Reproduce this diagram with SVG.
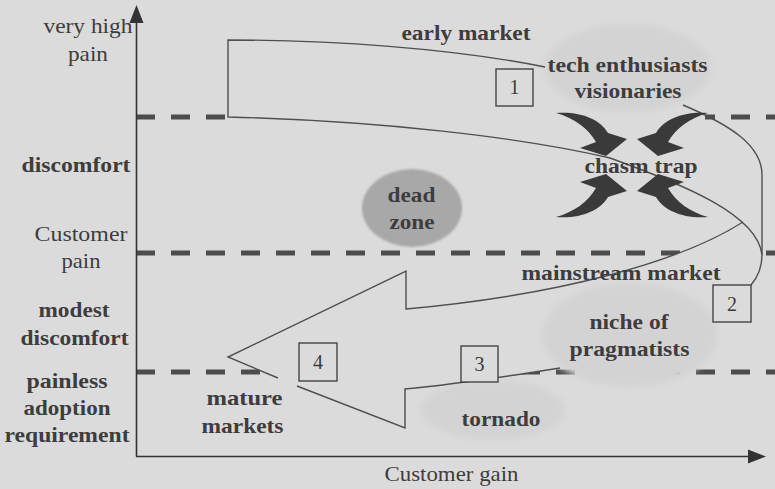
<svg xmlns="http://www.w3.org/2000/svg" width="775" height="489" viewBox="0 0 775 489">
  <style>
    .lb { font-family: "Liberation Serif", "Times New Roman", serif; font-weight: bold; font-size: 22px; fill: #3d3d3d; text-anchor: middle; }
    .lr { font-family: "Liberation Serif", "Times New Roman", serif; font-size: 22px; fill: #3d3d3d; text-anchor: middle; }
    .num { font-family: "Liberation Serif", "Times New Roman", serif; font-size: 20px; fill: #3a3a3a; text-anchor: middle; }
    .dash { stroke: #4c4c4c; stroke-width: 5; stroke-dasharray: 19 16; fill: none; }
    .edge { stroke: #4f4f4f; stroke-width: 1.4; fill: none; stroke-linejoin: miter; }
    .box { fill: #dcdbdb; stroke: #454545; stroke-width: 1.4; }
    .axis { stroke: #333; stroke-width: 1.6; fill: none; }
    .blob { fill: #d4d3d3; filter: url(#soft); }
  </style>
  <defs>
    <filter id="soft" x="-20%" y="-30%" width="140%" height="160%">
      <feGaussianBlur stdDeviation="3"/>
    </filter>
    <filter id="softer" x="-10%" y="-10%" width="120%" height="120%">
      <feGaussianBlur stdDeviation="1.2"/>
    </filter>
    <!-- one curved "trap" arrow, pointing in toward the chasm -->
    <path id="swoosh" d="M556,113 C580,111 600,119 608,133 L627,139 L606,156 L580,148 L596,142 C588,128 574,118 556,113 Z" fill="#3a3a3a"/>
  </defs>

  <rect width="775" height="489" fill="#dcdbdb"/>

  <!-- pain level thresholds -->
  <g id="thresholds">
    <path class="dash" d="M136,117 H228"/>
    <path class="dash" d="M705,117 H775" stroke-dashoffset="9"/>
    <path class="dash" d="M136,253 H775"/>
    <path class="dash" d="M136,372 H775"/>
  </g>

  <!-- body of the big return arrow masks the thresholds -->
  <path id="arrow-body" d="M406,309 C560,295 680,262 743,222 L752,236 L762,255 C762,268 757,278 751,285 L560,368 C510,376 460,384 405,389 V428 L228,357 L406,271 Z" fill="#dcdbdb"/>

  <!-- segment clouds -->
  <g id="tech-cloud"><ellipse class="blob" cx="628" cy="68" rx="84" ry="44"/></g>
  <g id="niche-cloud"><ellipse class="blob" cx="630" cy="335" rx="88" ry="52"/></g>
  <g id="tornado-cloud"><ellipse class="blob" cx="493" cy="410" rx="72" ry="30"/></g>
  <g id="dead-zone"><ellipse cx="412" cy="208" rx="50" ry="39" fill="#a9a8a8" filter="url(#softer)"/></g>

  <!-- life-cycle path -->
  <g id="connectors">
    <path class="edge" d="M545,67 C450,48 330,40 228,40 V117 C380,121 520,137 610,158 C685,185 758,215 762,255"/>
    <path class="edge" d="M683,105 C730,125 762,145 762,175 V255 C762,268 757,278 751,285"/>
    <path class="edge" d="M743,222 C680,262 560,295 406,309 V271 L228,357 L278,378 M297,386 L405,428 V389 C460,384 510,376 560,368"/>
  </g>

  <!-- chasm trap arrows -->
  <g id="chasm-arrows">
    <use href="#swoosh"/>
    <use href="#swoosh" transform="translate(1264,0) scale(-1,1)"/>
    <use href="#swoosh" transform="translate(0,330) scale(1,-1)"/>
    <use href="#swoosh" transform="translate(1264,330) scale(-1,-1)"/>
  </g>

  <!-- stage markers -->
  <g id="stage-1"><rect class="box" x="496" y="69" width="37" height="37"/><text class="num" x="514.5" y="94">1</text></g>
  <g id="stage-2"><rect class="box" x="713" y="285" width="38" height="37"/><text class="num" x="732" y="311">2</text></g>
  <g id="stage-3"><rect class="box" x="461" y="346" width="37" height="36"/><text class="num" x="479.5" y="371">3</text></g>
  <g id="stage-4"><rect class="box" x="299" y="343" width="38" height="38"/><text class="num" x="318" y="369">4</text></g>

  <!-- axes -->
  <g id="axes">
    <path class="axis" d="M136.5,456.5 V20 M136,456.5 H750"/>
    <polygon points="136.5,5 143.5,23 129.5,23" fill="#333"/>
    <polygon points="766,456.5 748,449.5 748,463.5" fill="#333"/>
  </g>

  <!-- vertical axis scale -->
  <g id="pain-scale">
    <text class="lr" x="88" y="33" textLength="89" lengthAdjust="spacingAndGlyphs">very high</text>
    <text class="lr" x="88" y="61" textLength="40" lengthAdjust="spacingAndGlyphs">pain</text>
    <text class="lb" x="76" y="172" textLength="109" lengthAdjust="spacingAndGlyphs">discomfort</text>
    <text class="lr" x="81" y="241" textLength="93" lengthAdjust="spacingAndGlyphs">Customer</text>
    <text class="lr" x="81" y="268" textLength="39" lengthAdjust="spacingAndGlyphs">pain</text>
    <text class="lb" x="74" y="317" textLength="71" lengthAdjust="spacingAndGlyphs">modest</text>
    <text class="lb" x="74.5" y="345" textLength="108" lengthAdjust="spacingAndGlyphs">discomfort</text>
    <text class="lb" x="67" y="388" textLength="81" lengthAdjust="spacingAndGlyphs">painless</text>
    <text class="lb" x="67" y="415" textLength="87" lengthAdjust="spacingAndGlyphs">adoption</text>
    <text class="lb" x="67" y="442" textLength="125" lengthAdjust="spacingAndGlyphs">requirement</text>
  </g>
  <text id="x-label" class="lr" x="451.5" y="481" textLength="134" lengthAdjust="spacingAndGlyphs">Customer gain</text>

  <!-- region labels -->
  <g id="early-market"><text class="lb" x="466" y="40" textLength="129" lengthAdjust="spacingAndGlyphs">early market</text></g>
  <g id="tech-enthusiasts">
    <text class="lb" x="627.5" y="72" textLength="160" lengthAdjust="spacingAndGlyphs">tech enthusiasts</text>
    <text class="lb" x="628" y="98" textLength="107" lengthAdjust="spacingAndGlyphs">visionaries</text>
  </g>
  <g id="chasm-trap"><text class="lb" x="641" y="173" textLength="113" lengthAdjust="spacingAndGlyphs">chasm trap</text></g>
  <g id="dead-zone-label">
    <text class="lb" x="411.5" y="202" textLength="48" lengthAdjust="spacingAndGlyphs">dead</text>
    <text class="lb" x="412" y="229" textLength="45" lengthAdjust="spacingAndGlyphs">zone</text>
  </g>
  <g id="mainstream-market"><text class="lb" x="621" y="280" textLength="199" lengthAdjust="spacingAndGlyphs">mainstream market</text></g>
  <g id="niche">
    <text class="lb" x="629" y="329" textLength="79" lengthAdjust="spacingAndGlyphs">niche of</text>
    <text class="lb" x="629.5" y="356" textLength="120" lengthAdjust="spacingAndGlyphs">pragmatists</text>
  </g>
  <g id="tornado"><text class="lb" x="501" y="426" textLength="79" lengthAdjust="spacingAndGlyphs">tornado</text></g>
  <g id="mature-markets">
    <text class="lb" x="244.5" y="405" textLength="76" lengthAdjust="spacingAndGlyphs">mature</text>
    <text class="lb" x="242.5" y="433" textLength="82" lengthAdjust="spacingAndGlyphs">markets</text>
  </g>
</svg>
